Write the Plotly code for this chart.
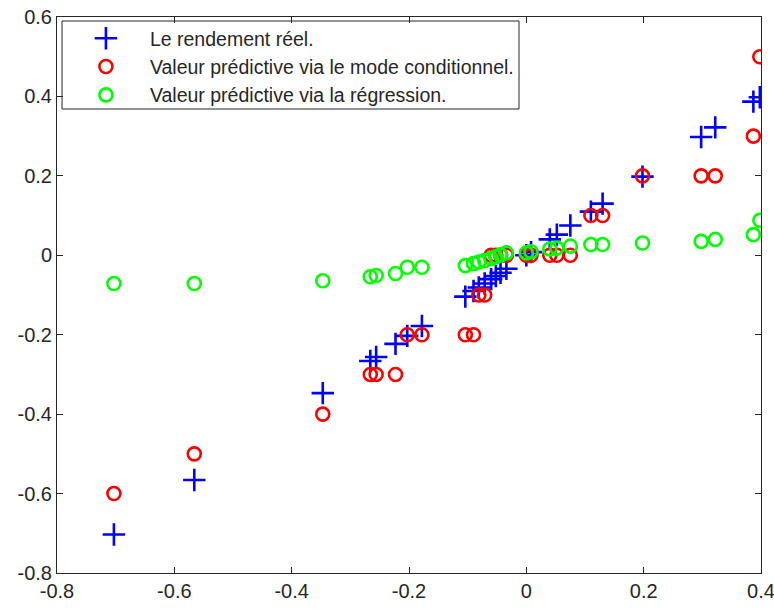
import plotly.graph_objects as go

# Actual returns (x) and the three series
actual = [-0.703, -0.566, -0.347, -0.266, -0.256, -0.223, -0.203, -0.178,
          -0.104, -0.090, -0.081, -0.071, -0.060, -0.052, -0.044, -0.034,
          0.000, 0.008, 0.040, 0.052, 0.075, 0.110, 0.130, 0.198,
          0.298, 0.322, 0.387, 0.398]
mode_pred = [-0.6, -0.5, -0.4, -0.3, -0.3, -0.3, -0.2, -0.2,
             -0.2, -0.2, -0.1, -0.1, 0.0, 0.0, 0.0, 0.0,
             0.0, 0.0, 0.0, 0.0, 0.0, 0.1, 0.1, 0.2,
             0.2, 0.2, 0.3, 0.5]
reg_pred = [-0.071, -0.071, -0.064, -0.054, -0.051, -0.046, -0.030, -0.030,
            -0.026, -0.021, -0.017, -0.013, -0.008, -0.004, 0.001, 0.006,
            0.006, 0.009, 0.016, 0.018, 0.023, 0.027, 0.027, 0.031,
            0.035, 0.040, 0.052, 0.088]

names = ["Le rendement réel.",
         "Valeur prédictive via le mode conditionnel.",
         "Valeur prédictive via la régression."]

x_ticks = [-0.8, -0.6, -0.4, -0.2, 0, 0.2, 0.4]
y_ticks = [-0.8, -0.6, -0.4, -0.2, 0, 0.2, 0.4, 0.6]

fig = go.Figure()
fig.add_trace(go.Scatter(
    x=actual, y=actual, mode="markers", name=names[0], legendgroup="a",
    marker=dict(symbol="cross-thin", size=16, line=dict(color="#0000ff", width=2.6), color="#0000ff")))
fig.add_trace(go.Scatter(
    x=actual, y=mode_pred, mode="markers", name=names[1], legendgroup="b",
    marker=dict(symbol="circle-open", size=13, line=dict(color="#ff0000", width=2.6), color="#ff0000")))
fig.add_trace(go.Scatter(
    x=actual, y=reg_pred, mode="markers", name=names[2], legendgroup="c",
    marker=dict(symbol="circle-open", size=13, line=dict(color="#00ff00", width=2.6), color="#00ff00")))

axis_common = dict(
    showgrid=False, zeroline=False, showline=True, linecolor="#262626", linewidth=1,
    mirror="ticks", ticks="inside", ticklen=6, tickcolor="#262626", automargin=False,
    ticklabeloverflow="allow",
    tickfont=dict(family="Liberation Sans, Arial, sans-serif", size=20, color="#262626"),
)
fig.update_xaxes(range=[-0.8, 0.4], tickvals=x_ticks,
                 ticktext=[("%g" % v) for v in x_ticks], **axis_common)
fig.update_yaxes(range=[-0.8, 0.6], tickvals=y_ticks,
                 ticktext=[("%g" % v) for v in y_ticks], **axis_common)

# legend frame (paper coordinates)
fig.add_shape(type="rect", xref="paper", yref="paper",
              x0=5 / 704, x1=462 / 704, y0=1 - 92 / 556, y1=1 - 4 / 556,
              line=dict(color="#262626", width=1), fillcolor="white", layer="below")

fig.update_layout(
    width=774, height=611,
    margin=dict(l=57, r=13, t=17, b=38, autoexpand=False),
    paper_bgcolor="white", plot_bgcolor="white",
    font=dict(family="Liberation Sans, Arial, sans-serif", color="#262626"),
    legend=dict(x=0.007, y=1 - 2 / 556, xanchor="left", yanchor="top",
                borderwidth=0, bgcolor="rgba(0,0,0,0)",
                font=dict(size=19.5, color="#262626"), tracegroupgap=0,
                itemwidth=78),
    showlegend=True,
)

fig.write_html("out.html")
